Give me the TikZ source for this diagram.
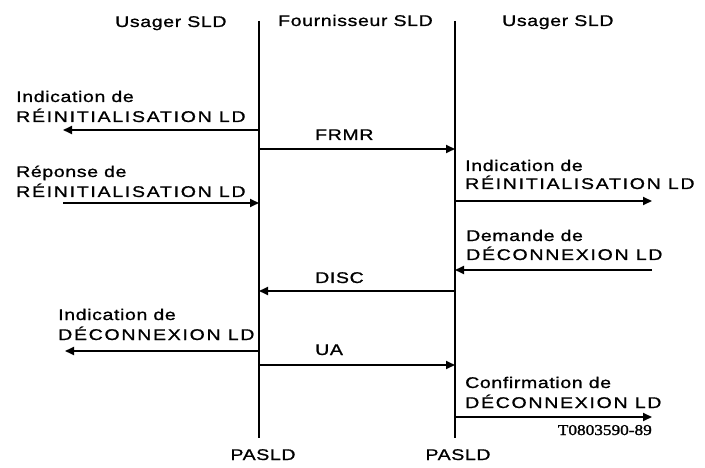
\documentclass[tikz,border=0pt]{standalone}
\usepackage{fontspec}
\setmainfont{Liberation Sans}[FakeStretch=1.26,LetterSpace=4,FakeBold=1]
\newfontfamily\capsf{Liberation Sans}[FakeStretch=1.26,LetterSpace=11,FakeBold=1]
\newfontfamily\codef{Liberation Serif}[FakeStretch=1.15,FakeBold=1.5]
\usetikzlibrary{arrows.meta}
\begin{document}
\begin{tikzpicture}[x=1pt,y=-1pt,
  txt/.style={inner sep=0pt,anchor=base west,font=\fontsize{15.5}{18}\selectfont},
  captxt/.style={inner sep=0pt,anchor=base west,font=\fontsize{15.5}{18}\selectfont\capsf},
  lifeline/.style={line width=2pt},
  msg/.style={line width=2pt,-{Triangle[length=9pt,width=8pt]}}]
\useasboundingbox (0,0) rectangle (705,468);
% lifelines
\coordinate (Ltop) at (259,21);
\coordinate (Lbot) at (259,438);
\coordinate (Rtop) at (455,21);
\coordinate (Rbot) at (455,438);
\draw[lifeline] (Ltop) -- (Lbot);
\draw[lifeline] (Rtop) -- (Rbot);
% headers
\node[txt] (h1) at (115,27) {Usager SLD};
\node[txt] (h2) at (278,26) {Fournisseur SLD};
\node[txt] (h3) at (502,26) {Usager SLD};
% 1 left indication reinit
\node[txt] (t1a) at (16,102) {Indication de};
\node[captxt] (t1b) at (16,122) {RÉINITIALISATION LD};
\coordinate (a1s) at (259,130);
\coordinate (a1e) at (63,130);
\draw[msg] (a1s) -- (a1e);
% FRMR
\node[txt] (frmr) at (315,140) {FRMR};
\coordinate (a2s) at (259,149);
\coordinate (a2e) at (455,149);
\draw[msg] (a2s) -- (a2e);
% 3 reponse reinit
\node[txt] (t3a) at (16,177) {Réponse de};
\node[captxt] (t3b) at (16,197) {RÉINITIALISATION LD};
\coordinate (a3s) at (63,203);
\coordinate (a3e) at (259,203);
\draw[msg] (a3s) -- (a3e);
% 4 right indication reinit
\node[txt] (t4a) at (465,171) {Indication de};
\node[captxt] (t4b) at (465,189) {RÉINITIALISATION LD};
\coordinate (a4s) at (455,201);
\coordinate (a4e) at (652,201);
\draw[msg] (a4s) -- (a4e);
% 5 demande deconnexion
\node[txt] (t5a) at (466,241) {Demande de};
\node[captxt] (t5b) at (466,260) {DÉCONNEXION LD};
\coordinate (a5s) at (652,270);
\coordinate (a5e) at (455,270);
\draw[msg] (a5s) -- (a5e);
% DISC
\node[txt] (disc) at (315,283) {DISC};
\coordinate (a6s) at (455,291);
\coordinate (a6e) at (259,291);
\draw[msg] (a6s) -- (a6e);
% 7 left indication deconnexion
\node[txt] (t7a) at (58,320) {Indication de};
\node[captxt] (t7b) at (58,340) {DÉCONNEXION LD};
\coordinate (a7s) at (259,351);
\coordinate (a7e) at (65,351);
\draw[msg] (a7s) -- (a7e);
% UA
\node[txt] (ua) at (315,355) {UA};
\coordinate (a8s) at (259,365);
\coordinate (a8e) at (455,365);
\draw[msg] (a8s) -- (a8e);
% 9 confirmation deconnexion
\node[txt] (t9a) at (465,388) {Confirmation de};
\node[captxt] (t9b) at (465,408) {DÉCONNEXION LD};
\coordinate (a9s) at (455,417);
\coordinate (a9e) at (652,417);
\draw[msg] (a9s) -- (a9e);
% reference code
\node[inner sep=0pt,anchor=base east,font=\fontsize{15}{17}\selectfont\codef] (code) at (652,435) {T0803590-89};
% PASLD
\node[txt,anchor=base] (p1) at (263,460) {PASLD};
\node[txt,anchor=base] (p2) at (458,460) {PASLD};
\end{tikzpicture}
\end{document}
